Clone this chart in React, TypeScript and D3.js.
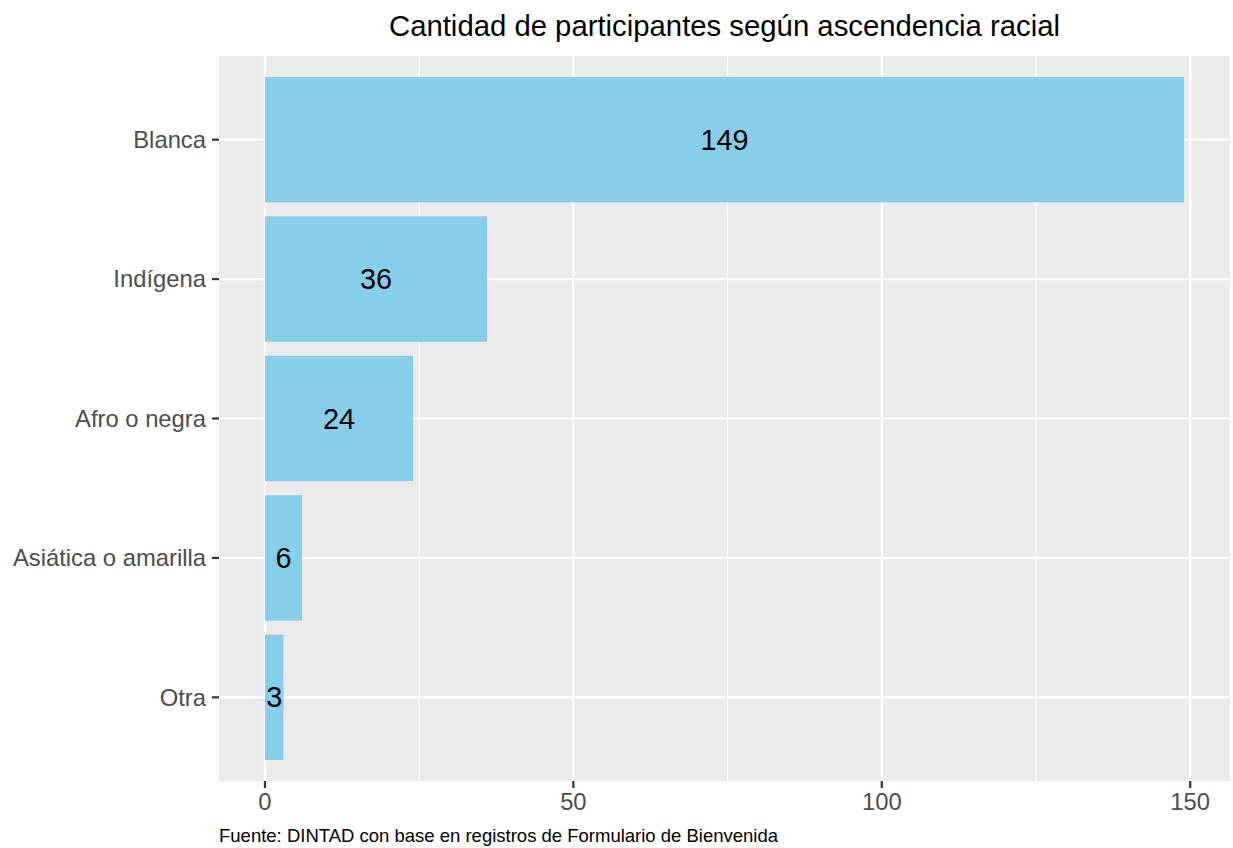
import React from "react";
import * as d3 from "d3";

const categories = ["Blanca", "Indígena", "Afro o negra", "Asiática o amarilla", "Otra"];
const counts = [149, 36, 24, 6, 3];
const xTicks = [0, 50, 100, 150];
const xMinor = [25, 75, 125];
const title = "Cantidad de participantes según ascendencia racial";
const caption = "Fuente: DINTAD con base en registros de Formulario de Bienvenida";

export default function App() {
  const W = 1233, H = 848;
  const left = 219, right = 1230, top = 56, bottom = 781;
  const maxV = d3.max(counts) as number;
  const pad = maxV * 0.05;
  const x = d3.scaleLinear().domain([-pad, maxV + pad]).range([left, right]);
  const n = categories.length;
  const step = (bottom - top) / (n - 1 + 1.2);
  const yCenter = (i: number) => top + step * (0.6 + i);
  const barH = step * 0.9;
  const font = "Liberation Sans, Arial, Helvetica, sans-serif";
  return (
    <svg width={W} height={H} style={{ position: "absolute", left: 0, top: 0 }} fontFamily={font}>
      <rect x={0} y={0} width={W} height={H} fill="#ffffff" />
      <rect x={left} y={top} width={right - left} height={bottom - top} fill="#ebebeb" />
      {xMinor.map((v) => (
        <line key={"m" + v} x1={x(v)} x2={x(v)} y1={top} y2={bottom} stroke="#ffffff" strokeWidth={1.1} />
      ))}
      {xTicks.map((v) => (
        <line key={"g" + v} x1={x(v)} x2={x(v)} y1={top} y2={bottom} stroke="#ffffff" strokeWidth={2.2} />
      ))}
      {categories.map((c, i) => (
        <line key={"h" + c} x1={left} x2={right} y1={yCenter(i)} y2={yCenter(i)} stroke="#ffffff" strokeWidth={2.2} />
      ))}
      {categories.map((c, i) => (
        <rect key={"b" + c} x={x(0)} y={yCenter(i) - barH / 2} width={x(counts[i]) - x(0)} height={barH} fill="#87ceeb" />
      ))}
      {categories.map((c, i) => (
        <text key={"l" + c} x={x(counts[i] / 2)} y={yCenter(i)} dy="0.35em" textAnchor="middle" fontSize={28.8} fill="#000000">
          {counts[i]}
        </text>
      ))}
      {categories.map((c, i) => (
        <g key={"y" + c}>
          <line x1={left - 7} x2={left} y1={yCenter(i)} y2={yCenter(i)} stroke="#333333" strokeWidth={2.2} />
          <text x={left - 13} y={yCenter(i)} dy="0.35em" textAnchor="end" fontSize={23.8} fill="#4d4d4d">
            {c}
          </text>
        </g>
      ))}
      {xTicks.map((v) => (
        <g key={"x" + v}>
          <line x1={x(v)} x2={x(v)} y1={bottom} y2={bottom + 7} stroke="#333333" strokeWidth={2.2} />
          <text x={x(v)} y={bottom + 11} dy="0.75em" textAnchor="middle" fontSize={23.8} fill="#4d4d4d">
            {v}
          </text>
        </g>
      ))}
      <text x={(left + right) / 2} y={36} textAnchor="middle" fontSize={29.3} fill="#000000">
        {title}
      </text>
      <text x={left} y={842} textAnchor="start" fontSize={18.5} fill="#000000">
        {caption}
      </text>
    </svg>
  );
}
